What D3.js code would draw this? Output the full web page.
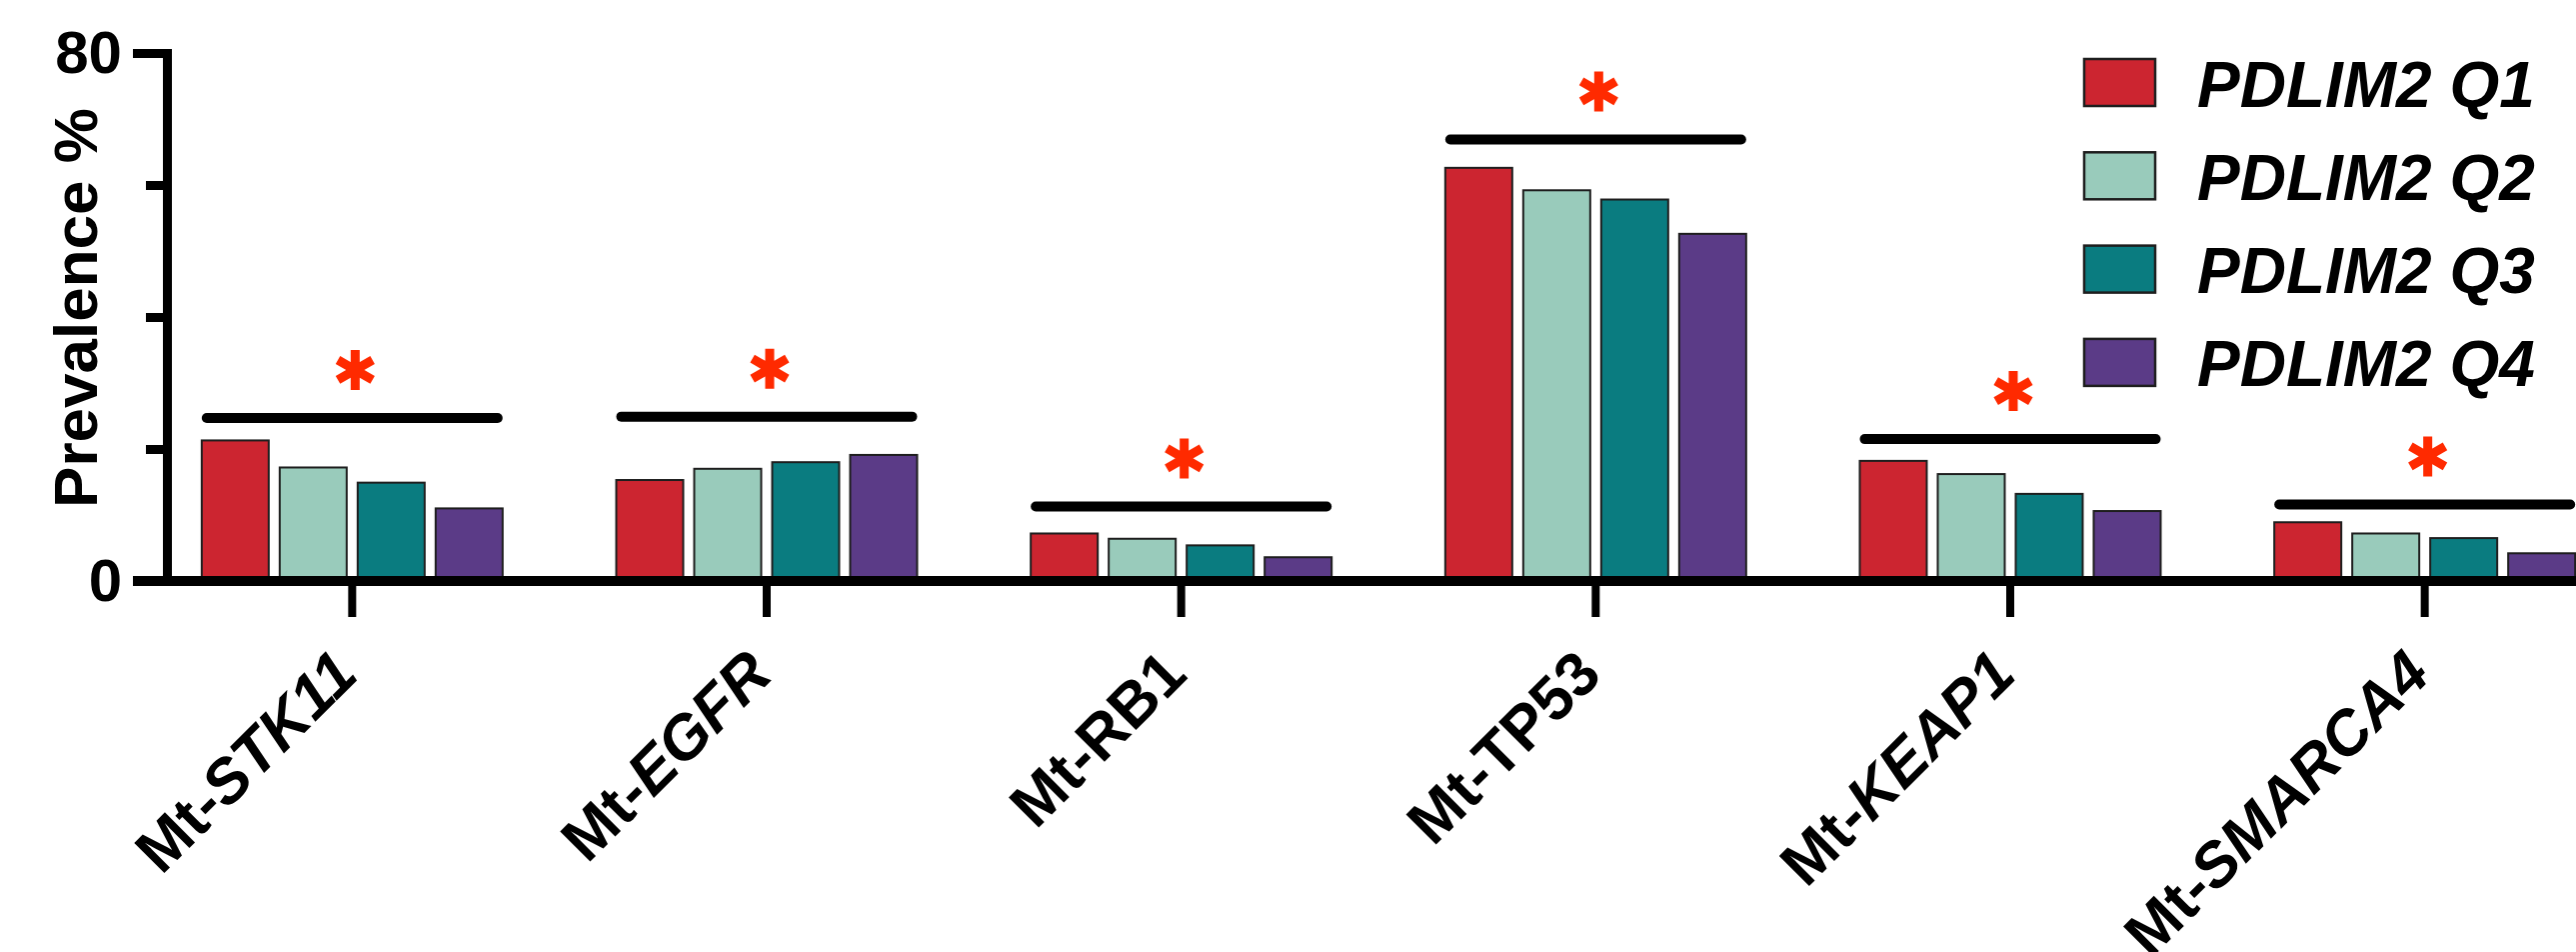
<!DOCTYPE html>
<html>
<head>
<meta charset="utf-8">
<script src="https://cdn.jsdelivr.net/npm/d3@7"></script>
<style>
  html, body { margin: 0; padding: 0; background: #fff; }
  svg text { font-family: "Liberation Sans", Arial, sans-serif; font-weight: bold; }
</style>
</head>
<body>
<div id="chart"></div>
<script type="text/javascript">
// data (prevalence %)
var genes = ["STK11", "EGFR", "RB1", "TP53", "KEAP1", "SMARCA4"];
var geneItalic = [true, true, false, false, true, true];
var groups = ["PDLIM2 Q1", "PDLIM2 Q2", "PDLIM2 Q3", "PDLIM2 Q4"];
var q1 = [21.3, 15.3, 7.2, 62.6, 18.2, 8.9];
var q2 = [17.2, 17.0, 6.4, 59.2, 16.2, 7.2];
var q3 = [14.9, 18.0, 5.4, 57.8, 13.2, 6.5];
var q4 = [11.0, 19.1, 3.6, 52.6, 10.6, 4.2];
// height of the significance bar above each gene group
var sigLevels = [24.7, 24.9, 11.3, 66.9, 21.5, 11.6];
var yTicks = [0, 80];
var yMinorTicks = [20, 40, 60];
var colors = ["#cc2530", "#99cbbb", "#0a7c80", "#5b3b87"];

var width = 2577, height = 952;

var svg = d3.select("#chart").append("svg")
    .attr("width", width)
    .attr("height", height)
    .style("display", "block");

svg.append("rect").attr("width", width).attr("height", height).attr("fill", "#fff");

// scales
var y = d3.scaleLinear().domain([0, 80]).range([581, 53]);
var x = d3.scaleBand().domain(genes).range([145, 2633]).padding(0);
var xInner = d3.scaleBand().domain(groups).range([-150.5, 150.5]).paddingInner(0.141).paddingOuter(0);

var values = [q1, q2, q3, q4];
var rows = [];
genes.forEach(function(g, i) {
  groups.forEach(function(s, j) {
    rows.push({gene: g, group: s, idx: j, value: values[j][i]});
  });
});

// bars
svg.append("g").selectAll("rect")
    .data(rows)
  .enter().append("rect")
    .attr("x", function(d) { return x(d.gene) + x.bandwidth() / 2 + xInner(d.group); })
    .attr("y", function(d) { return y(d.value); })
    .attr("width", xInner.bandwidth())
    .attr("height", function(d) { return y(0) - y(d.value); })
    .attr("fill", function(d) { return colors[d.idx]; })
    .attr("stroke", "#1e1e1e")
    .attr("stroke-width", 2);

// significance bars + asterisks
var sig = svg.append("g");
genes.forEach(function(g, i) {
  var cx = x(g) + x.bandwidth() / 2;
  var left = cx + xInner(groups[0]);
  var right = cx + xInner(groups[3]) + xInner.bandwidth();
  sig.append("line")
      .attr("x1", left + 5).attr("x2", right - 5)
      .attr("y1", y(sigLevels[i])).attr("y2", y(sigLevels[i]))
      .attr("stroke", "#000")
      .attr("stroke-width", 10)
      .attr("stroke-linecap", "round");
  sig.append("path")
      .attr("d", d3.symbol().type(d3.symbolAsterisk).size(1130)())
      .attr("transform", "translate(" + (cx + 3) + "," + (y(sigLevels[i]) - 48) + ")")
      .attr("fill", "none")
      .attr("stroke", "#ff2a00")
      .attr("stroke-width", 9);
});

// x axis
svg.append("line")
    .attr("x1", 133).attr("x2", width)
    .attr("y1", y(0)).attr("y2", y(0))
    .attr("stroke", "#000").attr("stroke-width", 10);

var xAxis = svg.append("g")
    .attr("transform", "translate(0," + (y(0) + 5) + ")")
    .call(d3.axisBottom(x).tickSize(31).tickSizeOuter(0));
xAxis.select(".domain").remove();
xAxis.selectAll(".tick line").attr("stroke", "#000").attr("stroke-width", 8);
xAxis.selectAll(".tick text").remove();
xAxis.selectAll(".tick").each(function(d, i) {
  var t = d3.select(this).append("text")
      .attr("transform", "translate(8,91) rotate(-45)")
      .attr("text-anchor", "end")
      .attr("fill", "#000")
      .style("font-size", "62px");
  t.append("tspan").text("Mt-");
  t.append("tspan").text(d).style("font-style", geneItalic[i] ? "italic" : "normal");
});

// y axis
var yAxis = svg.append("g")
    .attr("transform", "translate(167,0)")
    .call(d3.axisLeft(y).tickValues(yTicks).tickSize(34).tickSizeOuter(0).tickPadding(11));
yAxis.select(".domain").attr("stroke-width", 9).attr("stroke-linecap", "square");
yAxis.selectAll(".tick line").attr("stroke-width", 9);
yAxis.selectAll(".tick text").style("font-size", "60px").attr("fill", "#000");

var yMinor = svg.append("g")
    .attr("transform", "translate(167,0)")
    .call(d3.axisLeft(y).tickValues(yMinorTicks).tickSize(21).tickFormat(""));
yMinor.select(".domain").remove();
yMinor.selectAll(".tick line").attr("stroke-width", 9);

svg.append("text")
    .attr("transform", "translate(97,308) rotate(-90)")
    .attr("text-anchor", "middle")
    .style("font-size", "62px")
    .text("Prevalence %");

// legend
var legend = svg.append("g").selectAll("g")
    .data(groups)
  .enter().append("g")
    .attr("transform", function(d, i) { return "translate(2085," + (59 + i * 93.3) + ")"; });
legend.append("rect")
    .attr("width", 71).attr("height", 47)
    .attr("fill", function(d, i) { return colors[i]; })
    .attr("stroke", "#1e1e1e").attr("stroke-width", 2.5);
legend.append("text")
    .attr("x", 113).attr("y", 47.5)
    .style("font-size", "64px")
    .style("font-style", "italic")
    .text(function(d) { return d; });
</script>
</body>
</html>
